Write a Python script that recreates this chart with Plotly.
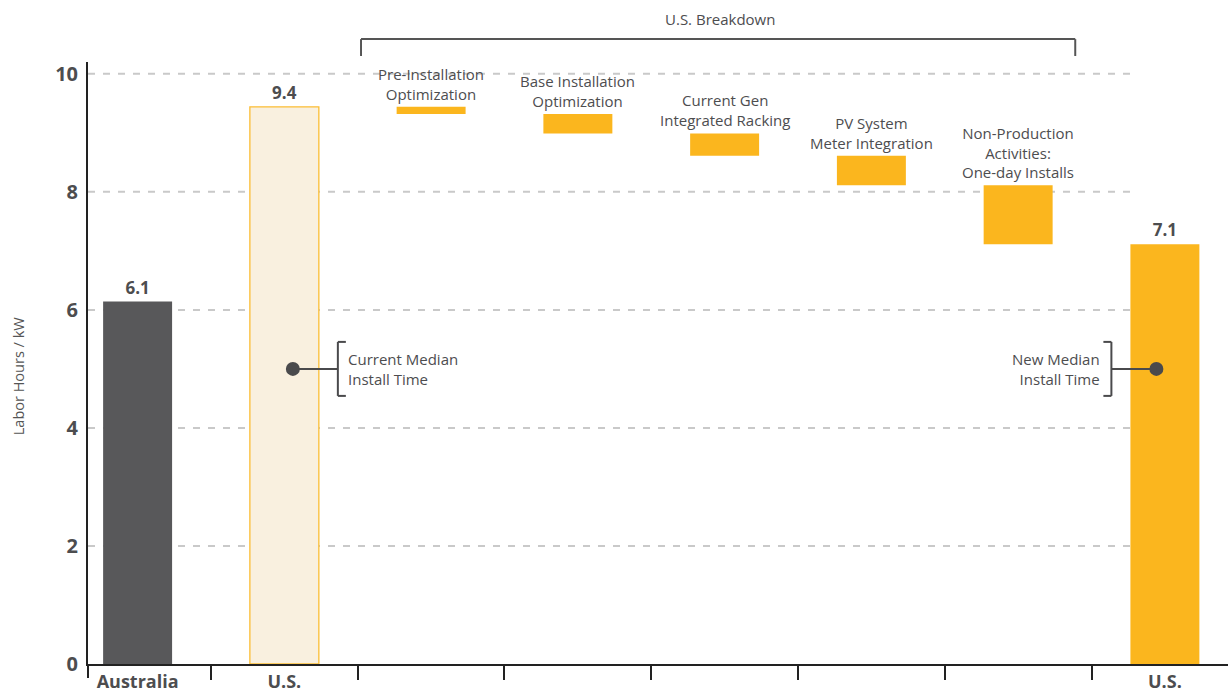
import plotly.graph_objects as go

# ---------------- data ----------------
australia_label = "Australia"
us_label = "U.S."
australia_hours = 6.14
us_current_hours = 9.44
us_new_hours = 7.11
segment_labels = [
    "Pre-Installation<br>Optimization",
    "Base Installation<br>Optimization",
    "Current Gen<br>Integrated Racking",
    "PV System<br>Meter Integration",
    "Non-Production<br>Activities:<br>One-day Installs",
]
segment_savings = [0.12, 0.33, 0.38, 0.50, 1.00]
median_marker_level = 5.0
y_tick_values = [0, 2, 4, 6, 8, 10]
breakdown_title = "U.S. Breakdown"
current_median_text = "Current Median<br>Install Time"
new_median_text = "New Median<br>Install Time"
y_axis_title = "Labor Hours / kW"

# ---------------- styling ----------------
FONT = "Open Sans"
TEXT = "#4d4d4f"
AXIS = "#222222"
DARK = "#58585a"
ORANGE = "#fbb61e"
CREAM = "#f9f0df"
CREAM_LINE = "#fbbd35"
GRID = "#c9c9c9"
BW = 0.47
X_RANGE = [-0.338, 7.43]
Y_RANGE = [0, 10.2]

seg_keys = [s.replace("<br>", " ") for s in segment_labels]
cat_keys = ["Australia", "U.S. (current)"] + seg_keys + ["U.S. (new)"]
tick_text = [australia_label, us_label] + [""] * len(seg_keys) + [us_label]

# waterfall bases derived from data
seg_tops = []
running = us_current_hours
for s in segment_savings:
    seg_tops.append(running)
    running -= s
seg_bases = [t - s for t, s in zip(seg_tops, segment_savings)]

fig = go.Figure()

val_font = dict(family=FONT, size=17, color=TEXT, weight="bold")

fig.add_bar(x=[cat_keys[0]], y=[australia_hours], width=BW,
            marker=dict(color=DARK, line=dict(width=0)),
            texttemplate="%{y:.1f}", textposition="outside", textfont=val_font,
            cliponaxis=False, hoverinfo="skip")
fig.add_bar(x=[cat_keys[1]], y=[us_current_hours], width=BW,
            marker=dict(color=CREAM, line=dict(color=CREAM_LINE, width=1.3)),
            texttemplate="%{y:.1f}", textposition="outside", textfont=val_font,
            cliponaxis=False, hoverinfo="skip")
fig.add_bar(x=seg_keys, y=segment_savings, base=seg_bases, width=BW,
            marker=dict(color=ORANGE, line=dict(width=0)), hoverinfo="skip")
fig.add_bar(x=[cat_keys[-1]], y=[us_new_hours], width=BW,
            marker=dict(color=ORANGE, line=dict(width=0)),
            texttemplate="%{y:.1f}", textposition="outside", textfont=val_font,
            cliponaxis=False, hoverinfo="skip")

shapes = []
# dashed gridlines, ending at the final bar
for v in y_tick_values[1:]:
    shapes.append(dict(type="line", xref="x", yref="y", x0=X_RANGE[0],
                       x1=len(cat_keys) - 1 - BW / 2, y0=v, y1=v, layer="below",
                       line=dict(color=GRID, width=2, dash="7px,8px")))

# bracket for U.S. breakdown
bx0, bx1, by_top, by_bot = 0.2395, 0.866, 1.038, 1.010
for (xa, ya, xb, yb) in [(bx0, by_top, bx1, by_top), (bx0, by_top, bx0, by_bot),
                         (bx1, by_top, bx1, by_bot)]:
    shapes.append(dict(type="line", xref="paper", yref="paper", x0=xa, y0=ya,
                       x1=xb, y1=yb, line=dict(color="#555555", width=2)))

# extra tick at origin
shapes.append(dict(type="line", xref="paper", yref="paper", x0=0, x1=0,
                   ysizemode="pixel", yanchor=0, y0=0, y1=-14,
                   line=dict(color=AXIS, width=2)))


def callout(cat, side):
    s = 1 if side == "right" else -1
    out = []
    cx = 8.5 * s
    out.append(dict(type="circle", xref="x", yref="y", xsizemode="pixel",
                    ysizemode="pixel", xanchor=cat, yanchor=median_marker_level,
                    x0=cx - 7, x1=cx + 7, y0=-7, y1=7,
                    fillcolor="#4a4a4c", line=dict(width=0)))
    out.append(dict(type="line", xref="x", yref="y", xsizemode="pixel",
                    ysizemode="pixel", xanchor=cat, yanchor=median_marker_level,
                    x0=cx, x1=53.5 * s, y0=0, y1=0,
                    line=dict(color="#4a4a4c", width=2)))
    out.append(dict(type="line", xref="x", yref="y", xsizemode="pixel",
                    ysizemode="pixel", xanchor=cat, yanchor=median_marker_level,
                    x0=53.5 * s, x1=53.5 * s, y0=-27, y1=27,
                    line=dict(color="#4a4a4c", width=2)))
    for yy in (-27, 27):
        out.append(dict(type="line", xref="x", yref="y", xsizemode="pixel",
                        ysizemode="pixel", xanchor=cat, yanchor=median_marker_level,
                        x0=53.5 * s, x1=61.5 * s, y0=yy, y1=yy,
                        line=dict(color="#4a4a4c", width=2)))
    return out


shapes += callout(cat_keys[1], "right")
shapes += callout(cat_keys[-1], "left")

reg_font = dict(family=FONT, size=15, color=TEXT)
annotations = []
for key, lab, top in zip(seg_keys, segment_labels, seg_tops):
    annotations.append(dict(x=key, y=top, xref="x", yref="y", text=lab,
                            showarrow=False, yanchor="bottom", xanchor="center",
                            yshift=1, font=reg_font, align="center"))
annotations.append(dict(x=0.554, y=1.071, xref="paper", yref="paper",
                        text=breakdown_title, showarrow=False, font=reg_font,
                        xanchor="center", yanchor="middle"))
annotations.append(dict(x=cat_keys[1], y=median_marker_level, xref="x", yref="y",
                        text=current_median_text, showarrow=False, xanchor="left",
                        yanchor="middle", xshift=62, align="left", font=reg_font))
annotations.append(dict(x=cat_keys[-1], y=median_marker_level, xref="x", yref="y",
                        text=new_median_text, showarrow=False, xanchor="right",
                        yanchor="middle", xshift=-63, align="right", font=reg_font))
annotations.append(dict(x=-0.0614, y=0.478, xref="paper", yref="paper",
                        text=y_axis_title, showarrow=False, textangle=-90,
                        xanchor="center", yanchor="middle",
                        font=dict(family=FONT, size=14.5, color="#555555")))

fig.update_layout(
    width=1228, height=698,
    margin=dict(l=88, r=0, t=62, b=34),
    paper_bgcolor="white", plot_bgcolor="white",
    barmode="overlay", showlegend=False,
    shapes=shapes, annotations=annotations,
    font=dict(family=FONT, color=TEXT),
    xaxis=dict(type="category", categoryorder="array", categoryarray=cat_keys,
               range=X_RANGE, tickmode="array", tickvals=cat_keys, ticktext=tick_text,
               tickson="boundaries", ticks="outside", ticklen=14, tickwidth=2,
               tickcolor=AXIS, showline=True, linecolor=AXIS, linewidth=2,
               showgrid=False, zeroline=False,
               tickfont=dict(family=FONT, size=18, color=TEXT, weight="bold")),
    yaxis=dict(range=Y_RANGE, tickvals=y_tick_values, showgrid=False, zeroline=False,
               showline=True, linecolor=AXIS, linewidth=2, ticks="",
               ticklabelstandoff=4,
               tickfont=dict(family=FONT, size=20, color=TEXT, weight="bold")),
)

fig.write_html("out.html")
